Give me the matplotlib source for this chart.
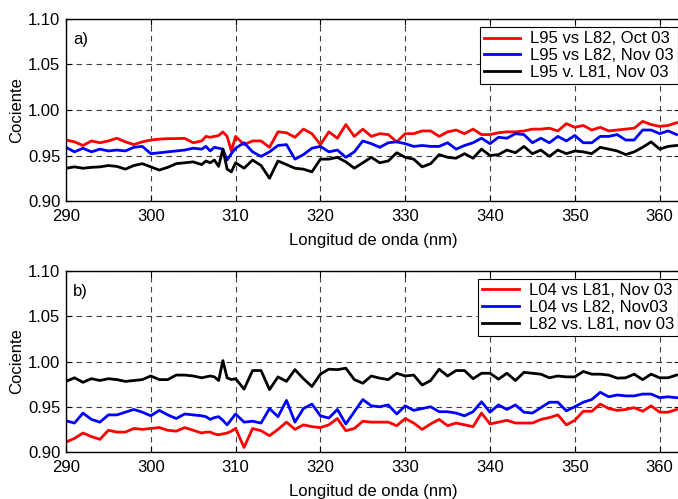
import numpy as np
import matplotlib
matplotlib.use('Agg')
import matplotlib.pyplot as plt

plt.rcParams['font.family'] = ['Liberation Sans', 'DejaVu Sans']
plt.rcParams['font.size'] = 12

# wavelength samples (nm), denser around 306-310
wl = np.concatenate([np.arange(290, 306), np.arange(306, 310.5, 0.5), np.arange(311, 363)])

# panel a)
a_red = [0.967, 0.965, 0.961, 0.966, 0.964, 0.966, 0.969, 0.965, 0.962, 0.965,
         0.967, 0.968, 0.9685, 0.9686, 0.9688, 0.964,
         0.966, 0.971, 0.970, 0.971, 0.972, 0.976, 0.971, 0.955, 0.971,
         0.962, 0.966, 0.966, 0.959, 0.976, 0.975, 0.970, 0.979, 0.974, 0.962,
         0.976, 0.969, 0.984, 0.971, 0.979, 0.971, 0.974, 0.973, 0.965, 0.974,
         0.974, 0.977, 0.977, 0.971, 0.976, 0.978, 0.974, 0.979, 0.973, 0.973,
         0.975, 0.976, 0.976, 0.977, 0.979, 0.979, 0.980, 0.977, 0.985, 0.981,
         0.983, 0.978, 0.981, 0.977, 0.978, 0.979, 0.980, 0.9875, 0.984, 0.982,
         0.983, 0.986]
a_blue = [0.959, 0.954, 0.958, 0.954, 0.957, 0.955, 0.956, 0.955, 0.959, 0.960,
          0.952, 0.953, 0.954, 0.955, 0.956, 0.958,
          0.957, 0.960, 0.955, 0.959, 0.958, 0.957, 0.945, 0.952, 0.958,
          0.964, 0.954, 0.949, 0.954, 0.961, 0.962, 0.946, 0.951, 0.958, 0.960,
          0.954, 0.956, 0.948, 0.954, 0.966, 0.963, 0.959, 0.964, 0.965, 0.963,
          0.960, 0.961, 0.960, 0.960, 0.964, 0.957, 0.961, 0.964, 0.969, 0.963,
          0.970, 0.969, 0.974, 0.973, 0.964, 0.969, 0.964, 0.971, 0.966, 0.972,
          0.964, 0.964, 0.971, 0.971, 0.973, 0.967, 0.967, 0.978, 0.978, 0.974,
          0.977, 0.973]
a_black = [0.936, 0.9375, 0.936, 0.937, 0.9375, 0.939, 0.938, 0.935, 0.939, 0.941,
           0.9375, 0.934, 0.937, 0.941, 0.942, 0.943,
           0.940, 0.944, 0.942, 0.945, 0.938, 0.957, 0.935, 0.932, 0.942,
           0.936, 0.945, 0.939, 0.925, 0.944, 0.940, 0.936, 0.935, 0.932, 0.946,
           0.946, 0.948, 0.943, 0.936, 0.942, 0.948, 0.942, 0.944, 0.953, 0.948,
           0.946, 0.9375, 0.941, 0.951, 0.948, 0.947, 0.952, 0.947, 0.957, 0.950,
           0.951, 0.956, 0.953, 0.960, 0.952, 0.956, 0.949, 0.956, 0.952, 0.955,
           0.954, 0.952, 0.959, 0.957, 0.955, 0.951, 0.954, 0.959, 0.965, 0.957,
           0.960, 0.961]

# panel b)
b_red = [0.911, 0.915, 0.921, 0.917, 0.914, 0.924, 0.922, 0.922, 0.926, 0.925,
         0.926, 0.927, 0.924, 0.923, 0.927, 0.924,
         0.921, 0.922, 0.922, 0.920, 0.919, 0.920, 0.921, 0.923, 0.926,
         0.905, 0.926, 0.9235, 0.918, 0.925, 0.933, 0.925, 0.930, 0.928, 0.927,
         0.930, 0.937, 0.9235, 0.926, 0.934, 0.933, 0.933, 0.933, 0.929, 0.937,
         0.932, 0.925, 0.931, 0.936, 0.929, 0.932, 0.930, 0.928, 0.943, 0.931,
         0.933, 0.935, 0.932, 0.932, 0.932, 0.936, 0.938, 0.941, 0.930, 0.935,
         0.945, 0.945, 0.953, 0.948, 0.946, 0.947, 0.949, 0.945, 0.951, 0.944,
         0.944, 0.947]
b_blue = [0.9345, 0.932, 0.943, 0.936, 0.933, 0.941, 0.941, 0.944, 0.947, 0.944,
          0.940, 0.946, 0.941, 0.937, 0.942, 0.941,
          0.940, 0.939, 0.936, 0.938, 0.939, 0.935, 0.930, 0.936, 0.942,
          0.933, 0.934, 0.932, 0.948, 0.939, 0.957, 0.933, 0.948, 0.953, 0.940,
          0.9375, 0.947, 0.931, 0.9445, 0.958, 0.951, 0.950, 0.952, 0.942, 0.951,
          0.946, 0.948, 0.950, 0.9445, 0.9445, 0.943, 0.940, 0.9445, 0.9555, 0.944,
          0.952, 0.947, 0.952, 0.944, 0.943, 0.949, 0.955, 0.955, 0.9455, 0.950,
          0.955, 0.958, 0.966, 0.961, 0.963, 0.962, 0.962, 0.964, 0.964, 0.960,
          0.961, 0.960]
b_black = [0.978, 0.982, 0.977, 0.981, 0.979, 0.981, 0.980, 0.978, 0.979, 0.980,
           0.984, 0.980, 0.980, 0.985, 0.985, 0.984,
           0.982, 0.983, 0.984, 0.983, 0.979, 1.001, 0.982, 0.980, 0.981,
           0.9695, 0.990, 0.990, 0.969, 0.983, 0.978, 0.991, 0.981, 0.9724, 0.986,
           0.9915, 0.991, 0.9926, 0.980, 0.976, 0.984, 0.9816, 0.980, 0.987, 0.984,
           0.985, 0.974, 0.979, 0.9915, 0.984, 0.990, 0.990, 0.981, 0.987, 0.987,
           0.9805, 0.987, 0.979, 0.988, 0.987, 0.986, 0.982, 0.984, 0.983, 0.983,
           0.989, 0.986, 0.986, 0.985, 0.9816, 0.982, 0.986, 0.980, 0.986, 0.982,
           0.982, 0.985]

labels_a = ['L95 vs L82, Oct 03', 'L95 vs L82, Nov 03', 'L95 v. L81, Nov 03']
labels_b = ['L04 vs L81, Nov 03', 'L04 vs L82, Nov03', 'L82 vs. L81, nov 03']
colors = ['#ff0000', '#0000ff', '#000000']

fig = plt.figure(figsize=(6.78, 4.99), dpi=100)
ax1 = fig.add_axes([66/678, 1 - 201/499, 614/678, 182/499])
ax2 = fig.add_axes([66/678, 1 - 452/499, 614/678, 181/499])

panels = [(ax1, [a_red, a_blue, a_black], labels_a, 'a)'),
          (ax2, [b_red, b_blue, b_black], labels_b, 'b)')]

for ax, series, labels, tag in panels:
    for y, c, lab in zip(series, colors, labels):
        ax.plot(wl, y, color=c, lw=2, label=lab)
    ax.set_xlim(290, 290 + 614/8.48)
    ax.set_ylim(0.90, 1.10)
    ax.set_xticks(np.arange(290, 361, 10))
    ax.set_yticks(np.arange(0.90, 1.101, 0.05))
    ax.yaxis.set_major_formatter(matplotlib.ticker.FormatStrFormatter('%.2f'))
    ax.tick_params(direction='in', top=True, right=True, length=4, labelsize=12)
    ax.tick_params(axis='x', pad=6)
    ax.tick_params(axis='y', pad=4)
    ax.grid(True, color='#404040', linestyle=(0, (5, 4)), lw=0.8)
    ax.set_xlabel('Longitud de onda (nm)', fontsize=12, labelpad=6)
    ax.set_ylabel('Cociente', fontsize=12, labelpad=3)
    ax.text(0.012, 0.93, tag, transform=ax.transAxes, fontsize=12, va='top')
    leg = ax.legend(loc='upper right', bbox_to_anchor=(0.997, 0.955), fontsize=12,
                    fancybox=False, edgecolor='black', framealpha=1,
                    handlelength=2.2, borderpad=0.25, labelspacing=0.1,
                    handletextpad=0.6, borderaxespad=0)
    leg.get_frame().set_linewidth(0.8)
    for s in ax.spines.values():
        s.set_linewidth(1)

fig.savefig('out.png', dpi=100)
